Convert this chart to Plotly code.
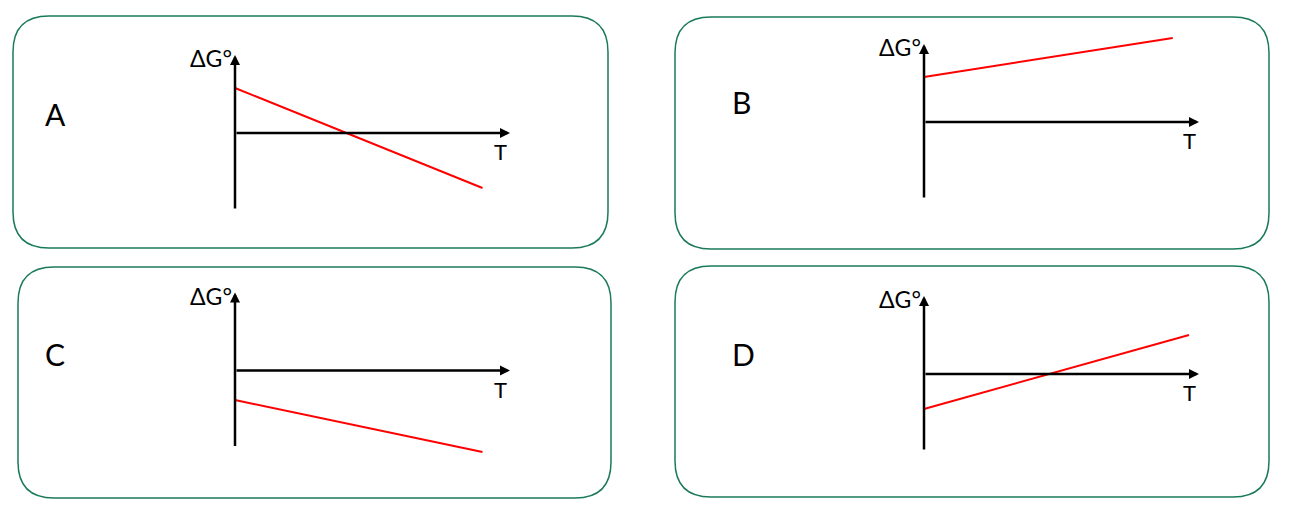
import plotly.graph_objects as go

# ---- data ----
panels = ["A", "B", "C", "D"]
# temperature at start / end of each red line (arbitrary units)
T_A = [0, 9.9]
T_B = [0, 9.95]
T_C = [0, 9.9]
T_D = [0, 10.6]
# standard Gibbs energy change at those temperatures (arbitrary units)
dG_A = [4.5, -5.5]
dG_B = [4.5, 8.4]
dG_C = [-2.95, -8.15]
dG_D = [-3.5, 3.9]

axis_y_label = "ΔG°"
axis_x_label = "T"

# ---- layout constants (pixels) ----
W, H = 1306, 519
PX_PER_T = 25.0
PX_PER_G = 10.0
# panel box (x0, y0, x1, y1) and axis origin (ox, oy)
boxes = {
    "A": (13, 16, 608, 248),
    "B": (675, 17, 1269, 249),
    "C": (18, 267, 611, 498),
    "D": (675, 266, 1269, 497),
}
origins = {
    "A": (235, 133),
    "B": (924, 122),
    "C": (235, 370.5),
    "D": (924, 374),
}
letter_pos = {"A": (55, 114), "B": (741, 102), "C": (55, 354), "D": (743, 354)}
RADIUS = 36
BOX_COLOR = "#1b7a5b"
FONT = "Lato"

series = {"A": (T_A, dG_A), "B": (T_B, dG_B), "C": (T_C, dG_C), "D": (T_D, dG_D)}

fig = go.Figure()
shapes = []
annotations = []


def px(x):
    return x / W


def py(y):
    return 1 - y / H


for i, p in enumerate(panels, start=1):
    x0, y0, x1, y1 = boxes[p]
    ox, oy = origins[p]
    xa = "x" if i == 1 else f"x{i}"
    ya = "y" if i == 1 else f"y{i}"
    xkey = "xaxis" if i == 1 else f"xaxis{i}"
    ykey = "yaxis" if i == 1 else f"yaxis{i}"
    fig.update_layout(**{
        xkey: dict(domain=[px(x0), px(x1)],
                   range=[(x0 - ox) / PX_PER_T, (x1 - ox) / PX_PER_T],
                   visible=False, anchor=ya, fixedrange=True),
        ykey: dict(domain=[py(y1), py(y0)],
                   range=[(oy - y1) / PX_PER_G, (oy - y0) / PX_PER_G],
                   visible=False, anchor=xa, fixedrange=True),
    })
    T, G = series[p]
    fig.add_trace(go.Scatter(x=T, y=G, mode="lines", xaxis=xa, yaxis=ya,
                             line=dict(color="#ff0000", width=2),
                             hoverinfo="skip", showlegend=False))
    # rounded panel box
    rx, ry = RADIUS / W, RADIUS / H
    X0, X1 = px(x0), px(x1)
    Yt, Yb = py(y0), py(y1)
    path = (f"M {X0+rx},{Yt} L {X1-rx},{Yt} Q {X1},{Yt} {X1},{Yt-ry} "
            f"L {X1},{Yb+ry} Q {X1},{Yb} {X1-rx},{Yb} "
            f"L {X0+rx},{Yb} Q {X0},{Yb} {X0},{Yb+ry} "
            f"L {X0},{Yt-ry} Q {X0},{Yt} {X0+rx},{Yt} Z")
    shapes.append(dict(type="path", path=path, xref="paper", yref="paper",
                       line=dict(color=BOX_COLOR, width=1.5), layer="below"))
    # axes with arrows
    annotations.append(dict(x=0, y=7.8, ax=0, ay=-7.7, xref=xa, yref=ya,
                            axref=xa, ayref=ya, text="", showarrow=True,
                            arrowhead=2, arrowsize=0.8, arrowwidth=2.5,
                            arrowcolor="black"))
    annotations.append(dict(x=11, y=0, ax=0, ay=0, xref=xa, yref=ya,
                            axref=xa, ayref=ya, text="", showarrow=True,
                            arrowhead=2, arrowsize=0.8, arrowwidth=2.5,
                            arrowcolor="black"))
    # axis labels
    annotations.append(dict(x=0, y=7.5, xref=xa, yref=ya, text=axis_y_label,
                            showarrow=False, xanchor="right", yanchor="middle",
                            xshift=-1, font=dict(family=FONT, size=23, color="black")))
    annotations.append(dict(x=10.6, y=-1.85, xref=xa, yref=ya, text=axis_x_label,
                            showarrow=False, xanchor="center", yanchor="middle",
                            font=dict(family=FONT, size=22, color="black")))
    lx, ly = letter_pos[p]
    annotations.append(dict(x=px(lx), y=py(ly), xref="paper", yref="paper",
                            text=p, showarrow=False, xanchor="center",
                            yanchor="middle",
                            font=dict(family=FONT, size=30, color="black")))

fig.update_layout(width=W, height=H, margin=dict(l=0, r=0, t=0, b=0),
                  paper_bgcolor="white", plot_bgcolor="rgba(0,0,0,0)",
                  shapes=shapes, annotations=annotations, showlegend=False)

fig.write_html("out.html", config={"displayModeBar": False},
               post_script="document.body.style.margin='0';document.body.style.overflow='hidden';")
